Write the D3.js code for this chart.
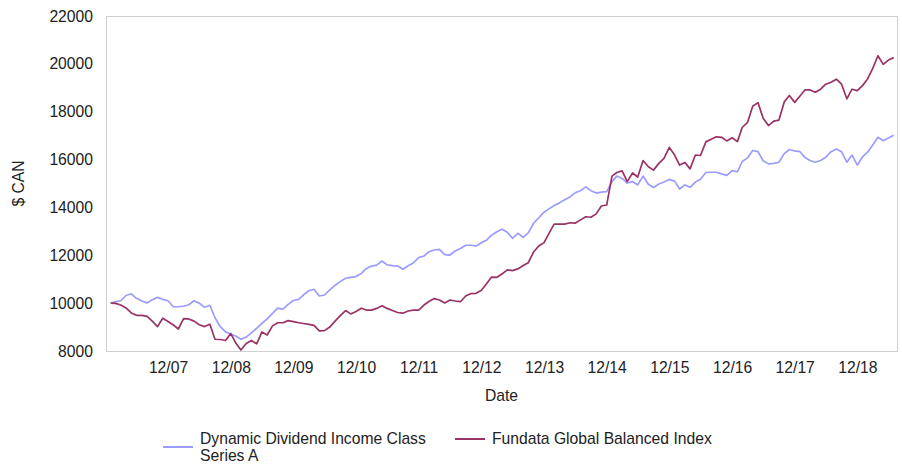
<!DOCTYPE html>
<html>
<head>
<meta charset="utf-8">
<script src="https://cdn.jsdelivr.net/npm/d3@7"></script>
<style>
  html, body { margin: 0; padding: 0; background: #fff; }
  svg { display: block; font-family: "Liberation Sans", Arial, sans-serif; }
</style>
</head>
<body>
<svg id="chart" width="902" height="465"></svg>
<script>
// Monthly growth of a $10,000 investment, Jan 2007 – Jul 2019
const firstMonth = new Date(2007, 0, 1);
const lastMonth = new Date(2019, 6, 1);

const seriesNames = ["Dynamic Dividend Income Class Series A", "Fundata Global Balanced Index"];
const seriesColors = ["#9c9cff", "#993366"];

const fundValues = [
  10000, 10050, 10100, 10320, 10390, 10200, 10090, 10010, 10140, 10240, 10160, 10100,
  9850, 9850, 9870, 9935, 10100, 10000, 9825, 9910, 9390, 9015, 8800, 8710,
  8615, 8490, 8580, 8760, 8950, 9150, 9340, 9570, 9790, 9750, 9950, 10110,
  10160, 10350, 10520, 10580, 10300, 10340, 10550, 10750, 10900, 11040, 11080, 11110,
  11240, 11440, 11550, 11590, 11760, 11600, 11570, 11550, 11415, 11560, 11680, 11900,
  11970, 12150, 12220, 12250, 12030, 12010, 12180, 12280, 12420, 12420, 12390, 12520,
  12640, 12840, 12980, 13090, 12960, 12710, 12920, 12750, 12940, 13340, 13570, 13800,
  13950, 14080, 14190, 14320, 14440, 14610, 14700, 14860, 14700, 14600, 14640, 14660,
  15080, 15310, 15210, 15020, 15080, 14940, 15310, 14970, 14830, 14980, 15060, 15170,
  15100, 14770, 14940, 14840, 15060, 15180, 15460, 15470, 15470, 15400, 15340, 15540,
  15490, 15920, 16070, 16380, 16330, 15950, 15820, 15840, 15890, 16250, 16420, 16360,
  16330, 16090, 15960, 15890, 15960, 16100, 16330, 16440, 16330, 15890, 16190, 15770,
  16120, 16300, 16610, 16930, 16790, 16900, 17020
];

const indexValues = [
  10000, 9990, 9920, 9800, 9590, 9490, 9490, 9450, 9250, 9020, 9370, 9230,
  9090, 8920, 9350, 9340, 9250, 9100, 9020, 9120, 8490, 8480, 8440, 8730,
  8310, 8040, 8310, 8440, 8300, 8790, 8670, 9050, 9180, 9180, 9270, 9230,
  9180, 9150, 9110, 9070, 8840, 8850, 9000, 9250, 9480, 9690, 9550, 9650,
  9790, 9710, 9710, 9780, 9890, 9780, 9690, 9610, 9580, 9670, 9710, 9710,
  9920, 10070, 10190, 10130, 10010, 10130, 10090, 10060, 10300, 10400, 10410, 10540,
  10820, 11090, 11080, 11220, 11390, 11360, 11430, 11570, 11690, 12140, 12390, 12530,
  12950, 13300, 13300, 13300, 13360, 13340, 13480, 13610, 13590, 13730, 14060, 14100,
  15310, 15460, 15530, 15080, 15440, 15270, 15960, 15700, 15560, 15840, 16050, 16510,
  16190, 15770, 15880, 15610, 16190, 16170, 16740, 16850, 16950, 16930, 16780, 16910,
  16750, 17340, 17550, 18230, 18380, 17730, 17420, 17610, 17650, 18410, 18680, 18390,
  18660, 18910, 18910, 18810, 18940, 19150, 19230, 19360, 19150, 18540, 18940, 18880,
  19100, 19360, 19810, 20340, 19980, 20160, 20260
];

const yTicks = [8000, 10000, 12000, 14000, 16000, 18000, 20000, 22000];
const xTickYears = [2007, 2008, 2009, 2010, 2011, 2012, 2013, 2014, 2015, 2016, 2017, 2018];

const yLabel = "$ CAN";
const xLabel = "Date";

// Month-end dates for each observation
const months = d3.timeMonth.range(firstMonth, d3.timeMonth.offset(lastMonth, 1))
  .map(d => d3.timeDay.offset(d3.timeMonth.offset(d, 1), -1));

const svg = d3.select("#chart");
const frame = { left: 106, right: 897, top: 16, bottom: 351 };
const inset = { left: 4.7, right: 3.3 };
const fontSize = 15.7;
const textColor = "#222";

const x = d3.scaleTime()
  .domain([months[0], months[months.length - 1]])
  .range([frame.left + inset.left, frame.right - inset.right]);

const y = d3.scaleLinear()
  .domain([8000, 22000])
  .range([frame.bottom, frame.top]);

// plot frame
svg.append("rect")
  .attr("x", frame.left + 0.5)
  .attr("y", frame.top + 0.5)
  .attr("width", frame.right - frame.left)
  .attr("height", frame.bottom - frame.top)
  .attr("fill", "none")
  .attr("stroke", "#cfcfcf")
  .attr("stroke-width", 1);

// y axis
const yAxis = svg.append("g")
  .attr("transform", `translate(${frame.left - 13},0)`)
  .call(d3.axisLeft(y).tickValues(yTicks).tickSize(0).tickPadding(0).tickFormat(d3.format("d")));
yAxis.select(".domain").remove();
yAxis.selectAll("text")
  .attr("font-size", fontSize)
  .attr("font-family", "Liberation Sans, Arial, sans-serif")
  .attr("fill", textColor);

// x axis
const xTicks = xTickYears.map(yr => new Date(yr, 11, 31));
const xAxis = svg.append("g")
  .attr("transform", `translate(0,${frame.bottom})`)
  .call(d3.axisBottom(x).tickValues(xTicks).tickSize(0).tickPadding(11).tickFormat(d3.timeFormat("%m/%y")));
xAxis.select(".domain").remove();
xAxis.selectAll("text")
  .attr("font-size", fontSize)
  .attr("font-family", "Liberation Sans, Arial, sans-serif")
  .attr("fill", textColor);

// axis titles
svg.append("text")
  .attr("transform", `translate(24,${(frame.top + frame.bottom) / 2}) rotate(-90)`)
  .attr("text-anchor", "middle")
  .attr("font-size", fontSize)
  .attr("fill", textColor)
  .text(yLabel);

svg.append("text")
  .attr("x", (frame.left + frame.right) / 2)
  .attr("y", 401)
  .attr("text-anchor", "middle")
  .attr("font-size", fontSize)
  .attr("fill", textColor)
  .text(xLabel);

// series lines
const line = d3.line()
  .x((d, i) => x(months[i]))
  .y(d => y(d));

[fundValues, indexValues].forEach((vals, k) => {
  svg.append("path")
    .datum(vals)
    .attr("fill", "none")
    .attr("stroke", seriesColors[k])
    .attr("stroke-width", 1.7)
    .attr("stroke-linejoin", "round")
    .attr("d", line);
});

// legend
const legend = svg.append("g");
const lg0 = legend.append("g");
lg0.append("line")
  .attr("x1", 163).attr("x2", 193).attr("y1", 447).attr("y2", 447)
  .attr("stroke", seriesColors[0]).attr("stroke-width", 2);
const t0 = lg0.append("text")
  .attr("x", 200).attr("y", 444)
  .attr("font-size", fontSize).attr("fill", textColor);
t0.append("tspan").attr("x", 200).attr("dy", 0).text("Dynamic Dividend Income Class");
t0.append("tspan").attr("x", 200).attr("dy", 17).text("Series A");

const lg1 = legend.append("g");
lg1.append("line")
  .attr("x1", 455).attr("x2", 485).attr("y1", 439).attr("y2", 439)
  .attr("stroke", seriesColors[1]).attr("stroke-width", 2);
lg1.append("text")
  .attr("x", 492).attr("y", 444)
  .attr("font-size", fontSize).attr("fill", textColor)
  .text(seriesNames[1]);
</script>
</body>
</html>
